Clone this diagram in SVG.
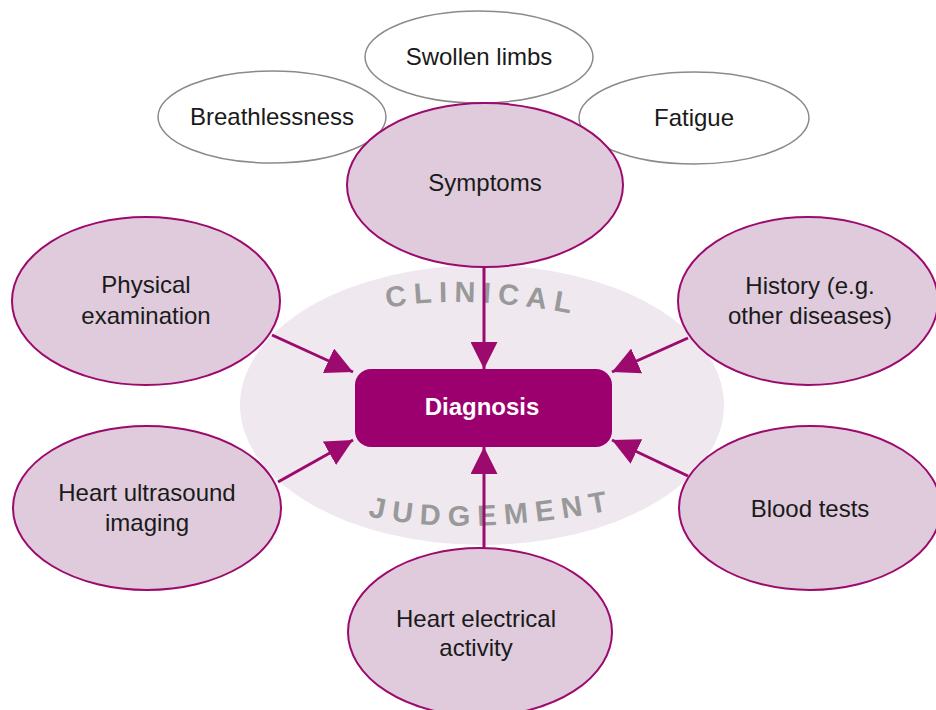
<svg xmlns="http://www.w3.org/2000/svg" width="936" height="710" viewBox="0 0 936 710">
<style>
.bg{fill:#efe8ef}
.sub{fill:#ffffff;stroke:#8a8a8a;stroke-width:1.5}
.node{fill:#dfcbdc;stroke:#9c0a6e;stroke-width:2}
.t{font-family:"Liberation Sans",Arial,sans-serif;font-size:24px;fill:#1a1a1a;text-anchor:middle}
.arc{font-family:"Liberation Sans",Arial,sans-serif;font-size:29px;font-weight:bold;fill:#999999}
.conn{stroke:#9c0a6e;stroke-width:3;fill:none;marker-end:url(#ah)}
</style>
<defs>
<marker id="ah" viewBox="0 0 10 10" refX="10" refY="5" markerWidth="9" markerHeight="9" markerUnits="strokeWidth" orient="auto">
<path d="M0,0 L10,5 L0,10 z" fill="#9c0a6e"/>
</marker>
<path id="p1" d="M 387,308 Q 470,292 595,318"/>
<path id="p2" d="M 368,516 Q 470,540 632,506"/>
</defs>
<rect width="936" height="710" fill="#ffffff"/>
<ellipse class="bg" cx="482" cy="405" rx="242" ry="140"/>
<text class="arc" letter-spacing="7"><textPath href="#p1">CLINICAL</textPath></text>
<text class="arc" letter-spacing="7.5"><textPath href="#p2">JUDGEMENT</textPath></text>
<g id="swollen"><ellipse class="sub" cx="479" cy="57" rx="114" ry="46"/><text class="t" x="479" y="65">Swollen limbs</text></g>
<g id="breathlessness"><ellipse class="sub" cx="272" cy="117" rx="114" ry="46"/><text class="t" x="272" y="125">Breathlessness</text></g>
<g id="fatigue"><ellipse class="sub" cx="694" cy="118" rx="115" ry="46"/><text class="t" x="694" y="126">Fatigue</text></g>
<g id="symptoms"><ellipse class="node" cx="485" cy="185" rx="138" ry="82"/><text class="t" x="485" y="191">Symptoms</text></g>
<g id="physical"><ellipse class="node" cx="146" cy="301" rx="134" ry="84"/><text class="t" x="146" y="293">Physical</text><text class="t" x="146" y="324">examination</text></g>
<g id="history"><ellipse class="node" cx="808" cy="301" rx="130" ry="84"/><text class="t" x="810" y="294">History (e.g.</text><text class="t" x="810" y="324">other diseases)</text></g>
<g id="ultrasound"><ellipse class="node" cx="147" cy="508" rx="134" ry="82"/><text class="t" x="147" y="501">Heart ultrasound</text><text class="t" x="147" y="531">imaging</text></g>
<g id="blood"><ellipse class="node" cx="810" cy="508" rx="131" ry="82"/><text class="t" x="810" y="517">Blood tests</text></g>
<g id="electrical"><ellipse class="node" cx="480" cy="632" rx="132" ry="84"/><text class="t" x="476" y="627">Heart electrical</text><text class="t" x="476" y="656">activity</text></g>
<g id="connectors">
<line class="conn" x1="484" y1="267" x2="484" y2="369"/>
<line class="conn" x1="272" y1="335" x2="353" y2="372"/>
<line class="conn" x1="688" y1="338" x2="612" y2="372"/>
<line class="conn" x1="278" y1="482" x2="353" y2="440"/>
<line class="conn" x1="688" y1="476" x2="612" y2="440"/>
<line class="conn" x1="484" y1="548" x2="484" y2="447"/>
</g>
<g id="diagnosis"><rect x="355" y="369" width="257" height="78" rx="16" fill="#9c006e"/><text class="t" x="482" y="415" style="fill:#ffffff;font-weight:bold">Diagnosis</text></g>
</svg>
